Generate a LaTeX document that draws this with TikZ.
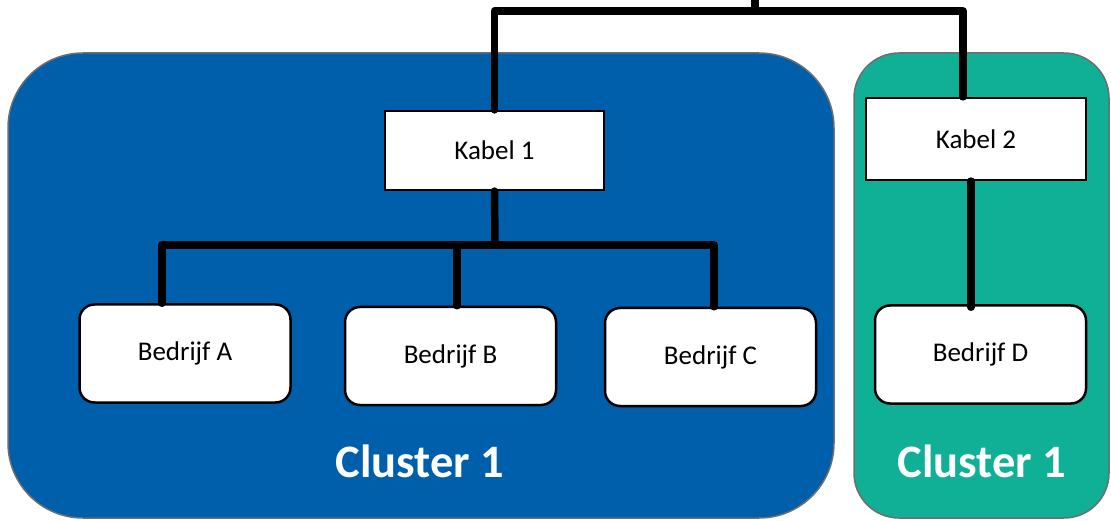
\documentclass[tikz,border=0pt]{standalone}
\usepackage{fontspec}
\setmainfont{Carlito}
\usetikzlibrary{backgrounds}
\definecolor{clblue}{RGB}{0,95,170}
\definecolor{clgreen}{RGB}{16,176,150}
\definecolor{clborder}{RGB}{110,110,110}
\tikzset{
  cluster/.style={draw=clborder, line width=1.5pt},
  kabel/.style={draw=black, fill=white, line width=2.2pt, inner sep=0pt, font=\fontsize{27}{32}\selectfont},
  bedrijf/.style={draw=black, fill=white, line width=2.5pt, rounded corners=15pt, inner sep=0pt, minimum width=211pt, minimum height=98pt, font=\fontsize{27}{32}\selectfont},
  conn/.style={draw=black, line width=7.5pt, line cap=round, line join=round},
  clabel/.style={text=white, anchor=base, font=\fontsize{46.5}{50}\selectfont\bfseries}
}
\begin{document}
\begin{tikzpicture}[x=1pt, y=-1pt]
\useasboundingbox (0,0) rectangle (1111,521);
% clusters
\path[cluster, fill=clblue, rounded corners=75pt] (8,53) rectangle (834,518);
\path[cluster, fill=clgreen, rounded corners=45pt] (854,53) rectangle (1109,518);
\node[clabel] (cl1) at (420,477) {Cluster 1};
\node[clabel] (cl2) at (982,477) {Cluster 1};
% boxes
\node[kabel, minimum width=219pt, minimum height=79pt] (k1) at (494.5,150.5) {Kabel 1};
\node[kabel, minimum width=220pt, minimum height=82pt] (k2) at (976,139) {Kabel 2};
\node[bedrijf] (A) at (185,353.5) {Bedrijf A};
\node[bedrijf] (B) at (450.5,356) {Bedrijf B};
\node[bedrijf] (C) at (710.5,357) {Bedrijf C};
\node[bedrijf] (D) at (980.5,354.5) {Bedrijf D};
% connectors
\coordinate (top) at (755,-10);
\coordinate (hub) at (755,11);
\coordinate (bus) at (495,245);
\draw[conn] (top) -- (hub);
\draw[conn] (k1.north) |- (hub) -| ([xshift=-13pt]k2.north);
\draw[conn] (k1.south) -- (bus);
\draw[conn] ([xshift=-23pt]A.north) |- (bus) -| ([xshift=3.5pt]C.north);
\draw[conn] ([xshift=6.5pt]B.north) -- ([xshift=6.5pt]B.north |- bus);
\draw[conn] ([xshift=-5pt]k2.south) -- ([xshift=-5pt,yshift=-3pt]k2.south |- D.north);
\end{tikzpicture}
\end{document}
